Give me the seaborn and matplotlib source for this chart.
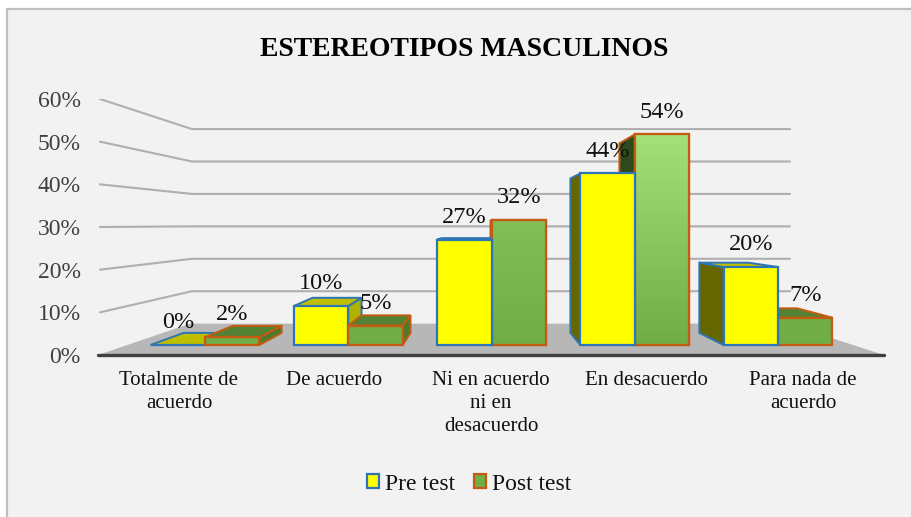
import numpy as np
import pandas as pd
import matplotlib
matplotlib.use('Agg')
import matplotlib.pyplot as plt
import seaborn as sns
from matplotlib.colors import LinearSegmentedColormap
from matplotlib.patches import Polygon, Rectangle

categorias = ['Totalmente de\nacuerdo', 'De acuerdo', 'Ni en acuerdo\nni en\ndesacuerdo',
              'En desacuerdo', 'Para nada de\nacuerdo']
pre_test = [0, 10, 27, 44, 20]
post_test = [2, 5, 32, 54, 7]
ticks = [0, 10, 20, 30, 40, 50, 60]

df = pd.DataFrame({
    'categoria': categorias * 2,
    'valor': pre_test + post_test,
    'prueba': ['Pre test'] * 5 + ['Post test'] * 5,
})

W, H = 912, 517
sns.set_theme(style='white')
plt.rcParams['font.family'] = ['Liberation Serif', 'DejaVu Serif']

fig = plt.figure(figsize=(W / 100, H / 100), dpi=100, facecolor='white')
fig.patches.append(Rectangle((7 / W, -0.05), 1.1, 1.05 - 9 / H, transform=fig.transFigure,
                             facecolor='#f2f2f2', edgecolor='#bfbfbf', lw=1.6, zorder=-5))

# back wall and floor, with its own scale (0% at y=355px, 60% at y=99px)
wall = fig.add_axes([98 / W, 1 - 355 / H, (884 - 98) / W, (355 - 99) / H])
wall.patch.set_visible(False)
wall.set_xlim(98, 884)
wall.set_ylim(0, 60)
for s in wall.spines.values():
    s.set_visible(False)
wall.set_xticks([])
wall.set_yticks(ticks)
wall.set_yticklabels([f'{t}%' for t in ticks], fontsize=17, color='#404040')
wall.tick_params(axis='y', length=0, pad=12.5)
floor_back = 7.35
for t in ticks[1:]:
    wall.plot([100, 192, 790], [t, floor_back + 0.76 * t, floor_back + 0.76 * t],
              color='#b0aeae', lw=1.5, solid_joinstyle='round')
wall.add_patch(Polygon([(98, 0), (884, 0), (787, floor_back), (190, floor_back)],
                       facecolor='#b7b7b7', edgecolor='none'))
wall.plot([98, 884], [0, 0], color='#404040', lw=2.4, clip_on=False)

# bars: front plane, x category units, y percent (0% at 345px, 3.9px per %)
ax = fig.add_axes([0, 0, 1, 1])
ax.patch.set_visible(False)
sns.barplot(data=df, x='categoria', y='valor', hue='prueba', order=categorias,
            hue_order=['Pre test', 'Post test'], palette=['#ffff00', '#70ad47'],
            width=0.76, gap=0, saturation=1, ax=ax)
handles, labels = ax.get_legend_handles_labels()
ax.get_legend().remove()

xlim = ((0 - 205) / 143.25, (W - 205) / 143.25)
ylim = ((345 - H) / 3.9, 345 / 3.9)

# vanishing point of the 3D look
vx, vy = (481 - 205) / 143.25, (345 - 224) / 3.9
def back(x, y):
    return vx + 0.9 * (x - vx), vy + 0.9 * (y - vy)

estilos = {
    0: dict(edge='#2e75b6', top='#bfbf00', left='#666600', right='#b0b000'),
    1: dict(edge='#c55a11', top='#548235', left='#2d4a1d', right='#4c7a2c'),
}
degradado = LinearSegmentedColormap.from_list('verde', ['#70ad47', '#a4e078'])

for h, cont in enumerate(ax.containers):
    st = estilos[h]
    for i, bar in enumerate(cont.patches):
        # painter's order: left of the vanishing point pre first, right of it post first
        rank = (h if i < 2 else 1 - h) + 1
        z = 3 + i * 10 + rank * 3
        x0, x1, t = bar.get_x(), bar.get_x() + bar.get_width(), bar.get_height()
        caras = []
        if x0 > vx:
            caras.append(([(x0, 0), (x0, t), back(x0, t), back(x0, 0)], st['left']))
        if x1 < vx:
            caras.append(([(x1, 0), (x1, t), back(x1, t), back(x1, 0)], st['right']))
        if t < vy:
            caras.append(([(x0, t), (x1, t), back(x1, t), back(x0, t)], st['top']))
        for pts, col in caras:
            ax.add_patch(Polygon(pts, facecolor=col, edgecolor=st['edge'], lw=1.4,
                                 joinstyle='miter', zorder=z))
        bar.set_edgecolor(st['edge'])
        bar.set_linewidth(1.6)
        bar.set_joinstyle('miter')
        bar.set_zorder(z + 1)
        if h == 1 and t >= 20:
            frac = (t / max(post_test)) ** 2
            ax.imshow(np.linspace(frac, 0, 64)[:, None], extent=(x0, x1, 0, t), aspect='auto',
                      cmap=degradado, vmin=0, vmax=1, zorder=z + 1.5)
            ax.add_patch(Rectangle((x0, 0), x1 - x0, t, fill=False, edgecolor=st['edge'],
                                   lw=1.6, zorder=z + 2))
    ax.bar_label(cont, labels=[f'{v:.0f}%' for v in cont.datavalues], padding=8.5,
                 fontsize=17.5, color='#111111', zorder=100)

ax.set_xlim(xlim)
ax.set_ylim(ylim)
ax.axis('off')

etiqueta_x = [179, 334, 491, 646, 803]
for px, cat in zip(etiqueta_x, categorias):
    ax.text(px / W, 1 - 371 / H, cat, transform=ax.transAxes, ha='center', va='top',
            fontsize=15, color='#111111', linespacing=1.27)

fig.text(464 / W, 1 - 49 / H, 'ESTEREOTIPOS MASCULINOS', ha='center', va='center',
         fontsize=20, fontweight='bold', color='black')

leg = ax.legend(handles, labels, loc='center', bbox_to_anchor=(469 / W, 1 - 484 / H),
                ncol=2, frameon=False, fontsize=17, handlelength=0.5, handleheight=0.5,
                handletextpad=0.25, columnspacing=0.8, labelcolor='#111111')
for p, h in zip(leg.get_patches(), estilos):
    p.set_edgecolor(estilos[h]['edge'])
    p.set_linewidth(1.6)

fig.savefig('out.png', dpi=100, facecolor=fig.get_facecolor())
